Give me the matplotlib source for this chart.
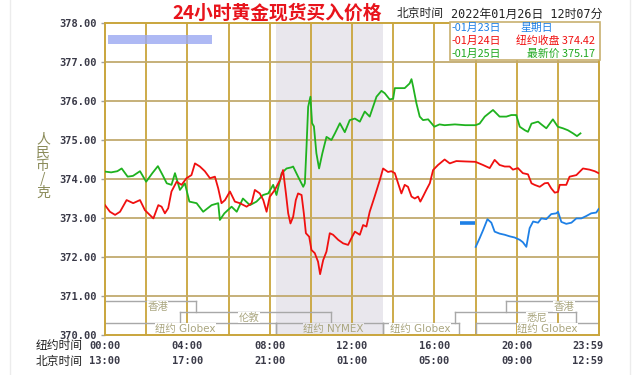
import numpy as np
import matplotlib
matplotlib.use("Agg")
import matplotlib.pyplot as plt
from matplotlib.patches import Rectangle
from matplotlib.lines import Line2D

plt.rcParams['font.family'] = ['Noto Sans CJK SC', 'DejaVu Sans']

# 01月25日 (green, latest)
green_h = [0, 0.3, 0.6, 0.81, 1.1, 1.36, 1.7, 2.0, 2.3, 2.57, 2.8, 3.0, 3.23, 3.4, 3.64, 3.88, 4.1, 4.45, 4.77, 5.18,
           5.5, 5.58, 5.8, 6.15, 6.4, 6.7, 7.04, 7.36, 7.68, 7.93, 8.17, 8.33, 8.58, 8.82, 9.06, 9.14, 9.38, 9.63, 9.71, 9.79,
           9.87, 9.98, 10.06, 10.15, 10.27, 10.4, 10.56, 10.76, 11.0, 11.17, 11.41, 11.65, 11.89, 12.14, 12.38, 12.62, 12.86, 13.19, 13.43, 13.59,
           13.83, 14.0, 14.08, 14.32, 14.56, 14.8, 14.89, 14.97, 15.13, 15.29, 15.45, 15.7, 15.86, 16.0, 16.25, 16.5, 17.0, 17.5, 18.0, 18.2,
           18.45, 18.85, 19.17, 19.5, 19.74, 19.98, 20.15, 20.4, 20.55, 20.72, 21.04, 21.2, 21.44, 21.76, 22.0, 22.25, 22.49, 22.74, 22.93, 23.1]
green_v = [374.19, 374.17, 374.2, 374.27, 374.06, 374.08, 374.2, 373.93, 374.15, 374.33, 374.1, 373.89, 373.85, 374.15, 373.72, 373.89, 373.42, 373.38, 373.16, 373.33,
           373.38, 372.95, 373.12, 373.29, 373.16, 373.5, 373.33, 373.42, 373.59, 373.63, 373.85, 373.59, 374.15, 374.27, 374.3, 374.32, 374.06, 373.8, 373.89, 374.83,
           375.85, 376.11, 375.43, 375.35, 374.66, 374.27, 374.66, 375.08, 375.0, 375.17, 375.43, 375.2, 375.51, 375.55, 375.47, 375.73, 375.6, 376.11, 376.26, 376.2,
           376.04, 376.06, 376.33, 376.33, 376.33, 376.45, 376.56, 376.37, 375.94, 375.6, 375.51, 375.53, 375.43, 375.34, 375.4, 375.38, 375.4, 375.38, 375.38, 375.42,
           375.6, 375.77, 375.6, 375.6, 375.64, 375.64, 375.34, 375.25, 375.21, 375.42, 375.47, 375.4, 375.3, 375.53, 375.34, 375.3, 375.25, 375.17, 375.1, 375.17]

# 01月24日 (red)
red_h = [0, 0.24, 0.49, 0.73, 1.05, 1.37, 1.7, 1.94, 2.27, 2.35, 2.59, 2.75, 2.91, 3.07, 3.23, 3.48, 3.72, 3.96, 4.2, 4.37,
         4.61, 4.85, 5.1, 5.34, 5.5, 5.66, 5.83, 6.07, 6.31, 6.55, 6.88, 7.12, 7.28, 7.52, 7.69, 7.85, 8.0, 8.25, 8.5, 8.65,
         8.79, 8.9, 9.01, 9.14, 9.27, 9.38, 9.55, 9.66, 9.76, 9.92, 10.03, 10.19, 10.35, 10.45, 10.6, 10.76, 10.92, 11.08, 11.33, 11.57,
         11.81, 11.97, 12.14, 12.38, 12.54, 12.7, 12.86, 13.1, 13.35, 13.51, 13.75, 13.91, 14.08, 14.24, 14.4, 14.56, 14.72, 14.89, 15.05, 15.21,
         15.32, 15.45, 15.61, 15.78, 15.94, 16.18, 16.5, 16.75, 17.07, 17.5, 18.0, 18.36, 18.69, 18.93, 19.17, 19.42, 19.66, 19.82, 20.06, 20.3,
         20.55, 20.72, 20.87, 21.12, 21.36, 21.52, 21.68, 21.85, 22.01, 22.09, 22.41, 22.57, 22.9, 23.22, 23.54, 23.79, 23.98]
red_v = [373.33, 373.16, 373.08, 373.16, 373.46, 373.38, 373.46, 373.2, 373.03, 372.99, 373.33, 373.29, 373.12, 373.25, 373.68, 373.93, 373.85, 374.02, 374.1, 374.4,
         374.32, 374.2, 374.02, 374.06, 373.76, 373.38, 373.46, 373.68, 373.42, 373.38, 373.29, 373.38, 373.72, 373.63, 373.46, 373.16, 373.54, 373.72, 373.97, 374.23,
         373.63, 373.12, 372.86, 373.03, 373.46, 373.63, 373.59, 373.12, 372.61, 372.52, 372.18, 372.1, 371.88, 371.56, 371.92, 372.14, 372.61, 372.57, 372.44, 372.35,
         372.31, 372.48, 372.65, 372.57, 372.82, 372.78, 373.16, 373.55, 373.97, 374.27, 374.18, 374.2, 374.15, 373.89, 373.63, 373.85, 373.8, 373.55, 373.5, 373.55,
         373.42, 373.55, 373.72, 373.89, 374.23, 374.36, 374.5, 374.4, 374.46, 374.45, 374.44, 374.36, 374.28, 374.49, 374.36, 374.32, 374.32, 374.24, 374.28, 374.15,
         374.12, 373.89, 373.85, 373.8, 373.89, 373.9, 373.76, 373.65, 373.67, 373.85, 373.85, 374.06, 374.1, 374.27, 374.24, 374.2, 374.15]

# 01月23日 (blue): short flat piece, then the session line
blue_flat_h = [17.27, 17.96]
blue_flat_v = [372.88, 372.88]
blue_h = [18.01, 18.2, 18.37, 18.58, 18.77, 18.93, 19.17, 19.42, 19.66, 19.9, 20.15, 20.3, 20.47, 20.63, 20.8, 21.04,
          21.2, 21.44, 21.68, 21.93, 22.01, 22.17, 22.41, 22.66, 22.9, 23.14, 23.38, 23.62, 23.87, 23.98]
blue_v = [372.26, 372.48, 372.69, 372.97, 372.88, 372.65, 372.6, 372.57, 372.53, 372.5, 372.44, 372.38, 372.26, 372.74, 372.91, 372.88,
          372.99, 372.97, 373.1, 373.12, 373.16, 372.9, 372.85, 372.88, 372.99, 372.99, 373.05, 373.12, 373.14, 373.23]

# trading sessions: name, start, end, row, label position
sessions = [("香港", 0, 4.4, 0, 2.55), ("香港", 19.5, 24, 0, 22.3),
            ("伦敦", 3.64, 11.0, 1, 7.0), ("悉尼", 17.0, 22.9, 1, 21.0),
            ("纽约 Globex", 0, 8.33, 2, 3.9), ("纽约 NYMEX", 8.33, 13.5, 2, 11.1),
            ("纽约 Globex", 13.5, 17.2, 2, 15.3), ("纽约 Globex", 18.0, 24, 2, 21.5)]
row_top = [370.87, 370.59, 370.31]

ny_ticks = [0, 4, 8, 12, 16, 20, 23.45]
ny_labels = ["00:00", "04:00", "08:00", "12:00", "16:00", "20:00", "23:59"]
bj_labels = ["13:00", "17:00", "21:00", "01:00", "05:00", "09:00", "12:59"]

GOLD = '#c9a53c'
TAN = '#c2aa6e'
SHADE = '#e9e7ed'

fig = plt.figure(figsize=(6.4, 3.75), dpi=100)
ax = fig.add_axes([105 / 640, 40 / 375, 494 / 640, 312 / 375])
ax.set_xlim(0, 24)
ax.set_ylim(370, 378)

ax.axvspan(8.33, 13.5, color=SHADE, zorder=0, lw=0)
for x in range(2, 24, 2):
    ax.axvline(x, color=GOLD, lw=1.3, zorder=1)
for y in range(371, 378):
    ax.axhline(y, color=TAN, lw=1.3, zorder=1)
for s in ax.spines.values():
    s.set_color(GOLD)
    s.set_linewidth(1.4)

# session brackets
for name, a, b, row, lx in sessions:
    top = row_top[row]
    ax.plot([a, b], [top, top], color='#a8a8a8', lw=1.0, zorder=2)
    for e in (a, b):
        if 0 < e < 24:
            ax.plot([e, e], [top, top - 0.28], color='#a8a8a8', lw=1.0, zorder=2)
    bg = SHADE if 8.33 < lx < 13.5 else 'white'
    ax.text(lx, top - 0.15, name, ha='center', va='center', fontsize=7.5, color='#aaa680',
            family=['DejaVu Sans', 'Noto Sans CJK SC'], zorder=3,
            bbox=dict(facecolor=bg, edgecolor='none', pad=0.3))

ax.plot(green_h, green_v, color='#1fb21f', lw=1.3, zorder=4)
ax.plot(red_h, red_v, color='#f01010', lw=1.3, zorder=4)
ax.plot(blue_flat_h, blue_flat_v, color='#1e80e6', lw=2.6, zorder=4, solid_capstyle='butt')
ax.plot(blue_h, blue_v, color='#1e80e6', lw=1.3, zorder=4)

ax.set_xticks([])
ax.set_yticks(range(370, 379))
ax.set_yticklabels(["%.2f" % v for v in range(370, 379)], family='DejaVu Sans Mono',
                   fontweight='bold', fontsize=7.5, color='#3a3a48')
ax.tick_params(axis='y', length=3, width=1, color='#a0a0a0', pad=3)

# time labels
tr = ax.get_xaxis_transform()
for x, a, b in zip(ny_ticks, ny_labels, bj_labels):
    ax.text(x, -0.036, a, transform=tr, ha='center', va='center', family='DejaVu Sans Mono',
            fontweight='bold', fontsize=7.5, color='#3a3a48')
    ax.text(x, -0.084, b, transform=tr, ha='center', va='center', family='DejaVu Sans Mono',
            fontweight='bold', fontsize=7.5, color='#3a3a48')
fig.text(83 / 640, 1 - 346 / 375, "纽约时间", ha='right', va='center', fontsize=8.5, color='#222')
fig.text(83 / 640, 1 - 361 / 375, "北京时间", ha='right', va='center', fontsize=8.5, color='#222')

# y label, stacked characters
fig.text(43 / 640, 1 - 166 / 375, "人\n民\n币\n/\n克", ha='center', va='center', fontsize=10,
         color='#8a8a58', linespacing=0.95)

# header
fig.text(277 / 640, 1 - 13 / 375, "24小时黄金现货买入价格", ha='center', va='center', fontsize=13.5,
         fontweight='bold', color='#e8141c')
fig.text(420 / 640, 1 - 14 / 375, "北京时间", ha='center', va='center', fontsize=8.5, color='#222')
fig.text(527 / 640, 1 - 14 / 375, "2022年01月26日 12时07分", ha='center', va='center', fontsize=8.5,
         color='#222', family=['DejaVu Sans Mono', 'Noto Sans CJK SC'])

# legend box
fig.add_artist(Rectangle((450 / 640, 1 - 60 / 375), 150 / 640, 38 / 375, transform=fig.transFigure,
                         facecolor='white', edgecolor='#c8b070', lw=1.2, zorder=5))
leg = [("-01月23日", "星期日", '#1e80e6', 28, 'left'),
       ("-01月24日", "纽约收盘 374.42", '#f01010', 41, 'right'),
       ("-01月25日", "最新价 375.17", '#1fa81f', 54, 'right')]
for d, t, c, y, al in leg:
    fig.text(452 / 640, 1 - y / 375, d, ha='left', va='center', fontsize=7.8, color=c, zorder=6)
    xx = 520 / 640 if al == 'left' else 595 / 640
    fig.text(xx, 1 - y / 375, t, ha=al, va='center', fontsize=7.8, color=c, zorder=6)

# blurred watermark and card border
fig.add_artist(Rectangle((108 / 640, 1 - 44 / 375), 104 / 640, 9 / 375, transform=fig.transFigure,
                         facecolor='#9aa8f2', edgecolor='none', alpha=0.8, zorder=5))
fig.add_artist(Line2D([10 / 640, 10 / 640], [0, 1], color='#ececec', lw=1))
fig.add_artist(Line2D([630 / 640, 630 / 640], [0, 1], color='#ececec', lw=1))

fig.savefig("out.png", dpi=100)
